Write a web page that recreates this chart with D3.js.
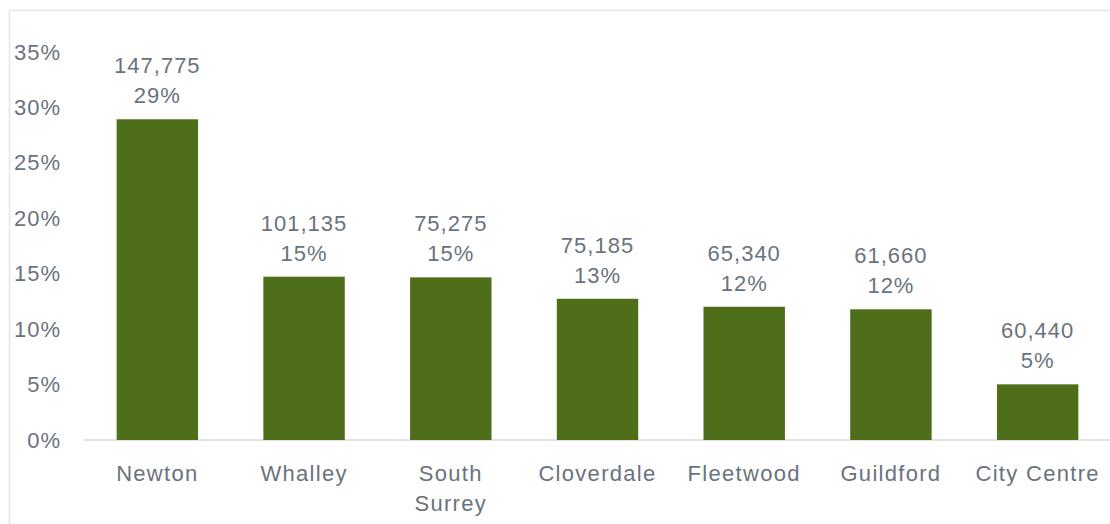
<!DOCTYPE html>
<html>
<head>
<meta charset="utf-8">
<script src="https://cdn.jsdelivr.net/npm/d3@7"></script>
<style>
  body { margin: 0; background: #fff; }
  text { font-family: "Liberation Sans", Arial, sans-serif; fill: #6a737d; }
</style>
</head>
<body>
<svg id="chart"></svg>
<script>
// data
var categories = ["Newton", "Whalley", "South Surrey", "Cloverdale", "Fleetwood", "Guildford", "City Centre"];
var shares = [0.2893, 0.1473, 0.1467, 0.1274, 0.1202, 0.1179, 0.0502];
var counts = ["147,775", "101,135", "75,275", "75,185", "65,340", "61,660", "60,440"];
var shareLabels = ["29%", "15%", "15%", "13%", "12%", "12%", "5%"];
var yTicks = [0, 0.05, 0.10, 0.15, 0.20, 0.25, 0.30, 0.35];

var W = 1110, H = 524;
var svg = d3.select("#chart").attr("width", W).attr("height", H);

// chart border (clipped at right/bottom)
svg.append("rect")
  .attr("x", 9.5).attr("y", 10.5)
  .attr("width", W + 20).attr("height", H + 20)
  .attr("fill", "none")
  .attr("stroke", "#e6e6e6")
  .attr("stroke-width", 1.5);

var xScale = d3.scaleBand()
  .domain(categories)
  .range([84, 1111])
  .paddingInner(0.445)
  .paddingOuter(0.2225);

var yScale = d3.scaleLinear().domain([0, 0.35]).range([440, 52]);

// y axis labels
var yAxis = d3.axisLeft(yScale)
  .tickValues(yTicks)
  .tickFormat(d3.format(".0%"))
  .tickSize(0)
  .tickPadding(0);

var ya = svg.append("g")
  .attr("transform", "translate(61,0)")
  .call(yAxis);
ya.select(".domain").remove();
ya.selectAll("text")
  .style("font-size", "22px")
  .attr("fill", "#6a737d")
  .style("letter-spacing", "1px");

// baseline
svg.append("line")
  .attr("x1", 84).attr("x2", W)
  .attr("y1", yScale(0)).attr("y2", yScale(0))
  .attr("stroke", "#e3e3e3")
  .attr("stroke-width", 2);

// bars
svg.selectAll(".bar")
  .data(categories)
  .enter()
  .append("rect")
  .attr("class", "bar")
  .attr("x", function(d) { return xScale(d); })
  .attr("width", xScale.bandwidth())
  .attr("y", function(d, i) { return yScale(shares[i]); })
  .attr("height", function(d, i) { return yScale(0) - yScale(shares[i]); })
  .attr("fill", "#4e6e1a");

// data labels: count over share
var lbl = svg.selectAll(".lbl")
  .data(categories)
  .enter()
  .append("text")
  .attr("class", "lbl")
  .attr("text-anchor", "middle")
  .style("font-size", "22px")
  .style("letter-spacing", "1px")
  .attr("x", function(d) { return xScale(d) + xScale.bandwidth() / 2; })
  .attr("y", function(d, i) { return yScale(shares[i]) - 16; });
lbl.append("tspan")
  .attr("x", function(d) { return xScale(d) + xScale.bandwidth() / 2; })
  .attr("dy", "-30")
  .text(function(d, i) { return counts[i]; });
lbl.append("tspan")
  .attr("x", function(d) { return xScale(d) + xScale.bandwidth() / 2; })
  .attr("dy", "30")
  .text(function(d, i) { return shareLabels[i]; });

// category labels (wrap "South Surrey")
var cat = svg.selectAll(".cat")
  .data(categories)
  .enter()
  .append("text")
  .attr("class", "cat")
  .attr("text-anchor", "middle")
  .style("font-size", "22px")
  .style("letter-spacing", "1.3px")
  .attr("y", 481);
cat.each(function(d) {
  var cx = xScale(d) + xScale.bandwidth() / 2;
  var words = d == "South Surrey" ? ["South", "Surrey"] : [d];
  var t = d3.select(this);
  words.forEach(function(w, j) {
    t.append("tspan").attr("x", cx).attr("dy", j == 0 ? 0 : 30).text(w);
  });
});
</script>
</body>
</html>
